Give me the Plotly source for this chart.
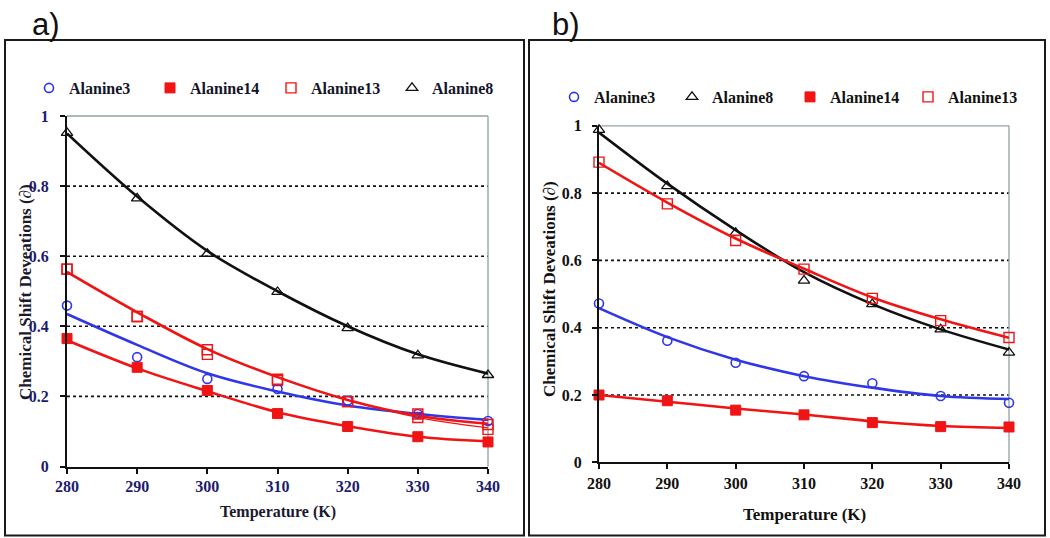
import plotly.graph_objects as go

W, H = 1050, 538

TEMPS = [280, 290, 300, 310, 320, 330, 340]
Y_TICKS = [0, 0.2, 0.4, 0.6, 0.8, 1]
Y_TICK_TEXT = ["0", "0.2", "0.4", "0.6", "0.8", "1"]
X_TICK_TEXT = ["280", "290", "300", "310", "320", "330", "340"]
GRID_Y = [0.2, 0.4, 0.6, 0.8]

# ---- panel a: measured points ----
A_ALA3 = [0.459, 0.312, 0.250, 0.221, 0.188, 0.150, 0.130]
A_ALA14 = [0.365, 0.283, 0.217, 0.151, 0.114, 0.085, 0.070]
A_ALA13 = [0.563, 0.428, 0.333, 0.249, 0.185, 0.150, 0.120]
A_ALA13_B = [0.563, 0.428, 0.320, 0.245, 0.185, 0.140, 0.106]
A_ALA8 = [0.952, 0.765, 0.607, 0.498, 0.395, 0.317, 0.261]
# ---- panel a: trend lines ----
A_ALA3_FIT = [0.435, 0.347, 0.266, 0.214, 0.174, 0.150, 0.133]
A_ALA14_FIT = [0.360, 0.280, 0.215, 0.155, 0.115, 0.085, 0.072]
A_ALA13_FIT = [0.555, 0.440, 0.335, 0.255, 0.190, 0.145, 0.122]
A_ALA13_B_FIT = [0.555, 0.440, 0.335, 0.255, 0.190, 0.140, 0.110]
A_ALA8_FIT = [0.950, 0.770, 0.615, 0.500, 0.400, 0.320, 0.265]

# ---- panel b: measured points ----
B_ALA3 = [0.472, 0.361, 0.296, 0.256, 0.235, 0.197, 0.177]
B_ALA8 = [0.988, 0.821, 0.682, 0.540, 0.470, 0.395, 0.326]
B_ALA14 = [0.200, 0.183, 0.155, 0.141, 0.118, 0.106, 0.105]
B_ALA13 = [0.892, 0.768, 0.659, 0.574, 0.487, 0.421, 0.371]
# ---- panel b: trend lines ----
B_ALA3_FIT = [0.458, 0.372, 0.305, 0.256, 0.222, 0.197, 0.188]
B_ALA8_FIT = [0.980, 0.828, 0.690, 0.565, 0.470, 0.395, 0.335]
B_ALA14_FIT = [0.200, 0.180, 0.160, 0.142, 0.122, 0.108, 0.102]
B_ALA13_FIT = [0.890, 0.772, 0.665, 0.575, 0.490, 0.425, 0.370]

BLUE = "#2f37e6"
RED = "#f01414"
BLACK = "#111111"
NAVY = "#1c1c6e"
SERIF = "Liberation Serif, Times New Roman, serif"
SANS = "Liberation Sans, Arial, sans-serif"

STYLE = {
    "Alanine3": dict(color=BLUE, symbol="circle-open", size=9, lw=1.6),
    "Alanine14": dict(color=RED, symbol="square", size=10, lw=1),
    "Alanine13": dict(color=RED, symbol="square-open", size=10, lw=1.4),
    "Alanine8": dict(color=BLACK, symbol="triangle-up-open", size=10, lw=1.3),
}

fig = go.Figure()


def add_series(name, pts, fit, xa, ya, legend, showlegend=True, fit_width=2.6):
    st = STYLE[name]
    fig.add_trace(go.Scatter(
        x=TEMPS, y=fit, mode="lines", xaxis=xa, yaxis=ya,
        line=dict(color=st["color"], width=fit_width, shape="spline", smoothing=1.0),
        showlegend=False, hoverinfo="skip", cliponaxis=False,
    ))
    fig.add_trace(go.Scatter(
        x=TEMPS, y=pts, mode="markers", name=name, xaxis=xa, yaxis=ya,
        legend=legend, showlegend=showlegend, cliponaxis=False,
        marker=dict(symbol=st["symbol"], size=st["size"], color=st["color"],
                    line=dict(color=st["color"], width=st["lw"])),
    ))


# panel a (legend order: Alanine3, Alanine14, Alanine13, Alanine8)
add_series("Alanine13", A_ALA13_B, A_ALA13_B_FIT, "x", "y", "legend", showlegend=False, fit_width=1.3)
add_series("Alanine3", A_ALA3, A_ALA3_FIT, "x", "y", "legend")
add_series("Alanine14", A_ALA14, A_ALA14_FIT, "x", "y", "legend")
add_series("Alanine13", A_ALA13, A_ALA13_FIT, "x", "y", "legend")
add_series("Alanine8", A_ALA8, A_ALA8_FIT, "x", "y", "legend")

# panel b (legend order: Alanine3, Alanine8, Alanine14, Alanine13)
add_series("Alanine3", B_ALA3, B_ALA3_FIT, "x2", "y2", "legend2")
add_series("Alanine8", B_ALA8, B_ALA8_FIT, "x2", "y2", "legend2")
add_series("Alanine14", B_ALA14, B_ALA14_FIT, "x2", "y2", "legend2")
add_series("Alanine13", B_ALA13, B_ALA13_FIT, "x2", "y2", "legend2")

# geometry (pixels)
A_L, A_R, A_T, A_B = 67, 488, 116, 466.5
B_L, B_R, B_T, B_B = 599, 1009, 125.8, 462.3


def px_x(v):
    return v / W


def px_y(v):
    return 1 - v / H


def xaxis_cfg(l, r, anchor, tickcolor, standoff):
    return dict(domain=[px_x(l), px_x(r)], range=[280, 340], anchor=anchor,
                tickvals=TEMPS, ticktext=X_TICK_TEXT, ticks="outside", ticklen=5,
                tickwidth=1.5, tickcolor=BLACK, showline=True, linecolor=BLACK,
                linewidth=2, showgrid=False, zeroline=False, ticklabelstandoff=standoff,
                tickfont=dict(family=SERIF, size=16, color=tickcolor, weight="bold"))


def yaxis_cfg(b, t, anchor, tickcolor, standoff):
    return dict(domain=[px_y(b), px_y(t)], range=[0, 1], anchor=anchor,
                tickvals=Y_TICKS, ticktext=Y_TICK_TEXT, ticks="outside", ticklen=5,
                tickwidth=1.5, tickcolor=BLACK, showline=True, linecolor=BLACK,
                linewidth=2, showgrid=False, zeroline=False, ticklabelstandoff=standoff,
                tickfont=dict(family=SERIF, size=16, color=tickcolor, weight="bold"))


shapes = []
# outer panel frames
shapes.append(dict(type="rect", xref="paper", yref="paper", x0=px_x(5), x1=px_x(524),
                   y0=px_y(535.5), y1=px_y(40), line=dict(color="#1a1a1a", width=2)))
shapes.append(dict(type="rect", xref="paper", yref="paper", x0=px_x(529), x1=px_x(1045),
                   y0=px_y(535.5), y1=px_y(40), line=dict(color="#1a1a1a", width=2)))
# dotted gridlines
for xr, yr in (("x domain", "y"), ("x2 domain", "y2")):
    for g in GRID_Y:
        shapes.append(dict(type="line", xref=xr, yref=yr, x0=0, x1=1, y0=g, y1=g,
                           layer="below", line=dict(color=BLACK, width=1.6, dash="dot")))
# gray top/right plot border
for xr, yr in (("x domain", "y domain"), ("x2 domain", "y2 domain")):
    shapes.append(dict(type="line", xref=xr, yref=yr, x0=0, x1=1, y0=1, y1=1,
                       layer="below", line=dict(color="#8fa3a3", width=1.3)))
    shapes.append(dict(type="line", xref=xr, yref=yr, x0=1, x1=1, y0=0, y1=1,
                       layer="below", line=dict(color="#8fa3a3", width=1.3)))

YTITLE = "Chemical Shift Deveations (∂)"
annotations = [
    dict(text="a)", xref="paper", yref="paper", x=px_x(30), y=px_y(24), xanchor="left",
         yanchor="middle", showarrow=False, font=dict(family=SANS, size=31, color=BLACK)),
    dict(text="b)", xref="paper", yref="paper", x=px_x(550), y=px_y(24), xanchor="left",
         yanchor="middle", showarrow=False, font=dict(family=SANS, size=31, color=BLACK)),
    dict(text="Temperature (K)", xref="paper", yref="paper", x=px_x((A_L + A_R) / 2),
         y=px_y(512), xanchor="center", yanchor="middle", showarrow=False,
         font=dict(family=SERIF, size=16, color="#1a1a2e", weight="bold")),
    dict(text="Temperature (K)", xref="paper", yref="paper", x=px_x((B_L + B_R) / 2),
         y=px_y(514), xanchor="center", yanchor="middle", showarrow=False,
         font=dict(family=SERIF, size=17, color=BLACK, weight="bold")),
    dict(text=YTITLE, xref="paper", yref="paper", x=px_x(25), y=px_y(292),
         xanchor="center", yanchor="middle", textangle=-90, showarrow=False,
         font=dict(family=SERIF, size=17, color="#1a1a2e", weight="bold")),
    dict(text=YTITLE, xref="paper", yref="paper", x=px_x(549), y=px_y(289),
         xanchor="center", yanchor="middle", textangle=-90, showarrow=False,
         font=dict(family=SERIF, size=17, color=BLACK, weight="bold")),
]

legend_common = dict(orientation="h", xanchor="left", yanchor="middle",
                     entrywidthmode="pixels", itemwidth=30, bgcolor="rgba(0,0,0,0)",
                     borderwidth=0, traceorder="normal", itemclick=False,
                     itemdoubleclick=False, xref="paper", yref="paper")

fig.update_layout(
    width=W, height=H, margin=dict(l=0, r=0, t=0, b=0, autoexpand=False),
    paper_bgcolor="white", plot_bgcolor="white",
    xaxis=xaxis_cfg(A_L, A_R, "y", NAVY, -1),
    yaxis=yaxis_cfg(A_B, A_T, "x", NAVY, 8),
    xaxis2=xaxis_cfg(B_L, B_R, "y2", BLACK, 0),
    yaxis2=yaxis_cfg(B_B, B_T, "x2", BLACK, 7),
    legend=dict(x=px_x(29), y=px_y(88), entrywidth=76,
                font=dict(family=SERIF, size=16, color="#15152a", weight="bold"),
                **legend_common),
    legend2=dict(x=px_x(554), y=px_y(97), entrywidth=73,
                 font=dict(family=SERIF, size=16, color=BLACK, weight="bold"),
                 **legend_common),
    shapes=shapes, annotations=annotations, showlegend=True,
)

fig.write_html("out.html", config={"displayModeBar": False},
               post_script="document.body.style.margin='0';"
               "document.documentElement.style.overflow='hidden';")
